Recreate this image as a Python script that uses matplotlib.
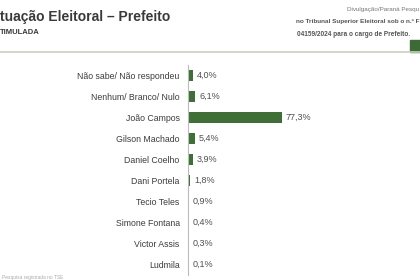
import matplotlib.pyplot as plt

plt.rcParams['font.family'] = ['Liberation Sans', 'DejaVu Sans']

# Data
candidates = ['Não sabe/ Não respondeu', 'Nenhum/ Branco/ Nulo', 'João Campos',
              'Gilson Machado', 'Daniel Coelho', 'Dani Portela', 'Tecio Teles',
              'Simone Fontana', 'Victor Assis', 'Ludmila']
values = [4.0, 6.1, 77.3, 5.4, 3.9, 1.8, 0.9, 0.4, 0.3, 0.1]
value_labels = ['4,0%', '6,1%', '77,3%', '5,4%', '3,9%', '1,8%', '0,9%', '0,4%', '0,3%', '0,1%']

W, H = 420, 280
fig = plt.figure(figsize=(4.2, 2.8), dpi=100)
fig.patch.set_facecolor('white')

# Header texts
fig.text(0 / W, 1 - 17 / H, 'tuação Eleitoral – Prefeito', fontsize=10, fontweight='bold',
         color='#3a3a3a', ha='left', va='center')
fig.text(0 / W, 1 - 33 / H, 'TIMULADA', fontsize=5.5, fontweight='bold',
         color='#3a3a3a', ha='left', va='center')
fig.text(419 / W, 1 - 10 / H, 'Divulgação/Paraná Pesqu', fontsize=4.5,
         color='#777777', ha='right', va='center')
fig.text(419 / W, 1 - 22 / H, 'no Tribunal Superior Eleitoral sob o n.º F', fontsize=4.6,
         fontweight='bold', color='#555555', ha='right', va='center')
fig.text(297 / W, 1 - 34 / H, '04159/2024 para o cargo de Prefeito.', fontsize=4.7,
         fontweight='bold', color='#555555', ha='left', va='center')

# header rule and green block
fig.add_artist(plt.Line2D([0, 1], [1 - 52 / H, 1 - 52 / H], color='#c9cfc2', lw=1.2,
                          transform=fig.transFigure))
fig.add_artist(plt.Rectangle((410 / W, 1 - 52 / H), 10 / W, 12 / H, color='#3d6b35',
                             transform=fig.transFigure))

# footer
fig.text(2 / W, 1 - 277 / H, 'Pesquisa registrada no TSE', fontsize=3.5,
         color='#aaaaaa', ha='left', va='center')

# Bar chart axes
left, right = 188, 420
top, bottom = 65, 275
ax = fig.add_axes([left / W, 1 - bottom / H, (right - left) / W, (bottom - top) / H])
px_per_pct = 94 / 77.3
ax.set_xlim(0, (right - left) / px_per_pct)
ax.set_ylim(len(candidates) - 0.5, -0.5)

ypos = list(range(len(candidates)))
ax.barh(ypos, values, height=0.5, color='#3f6e37')
for y, v, lab in zip(ypos, values, value_labels):
    ax.text(v + 3.3, y, lab, fontsize=6.5, color='#505050', ha='left', va='center')

ax.set_yticks(ypos)
ax.set_yticklabels(candidates, fontsize=6.3, color='#3c3c3c')
ax.tick_params(axis='y', length=0, pad=6)
ax.set_xticks([])
for s in ['top', 'right', 'bottom']:
    ax.spines[s].set_visible(False)
ax.spines['left'].set_color('#bbbbbb')
ax.spines['left'].set_linewidth(0.8)
ax.set_facecolor('none')

fig.savefig('out.png', dpi=100)
